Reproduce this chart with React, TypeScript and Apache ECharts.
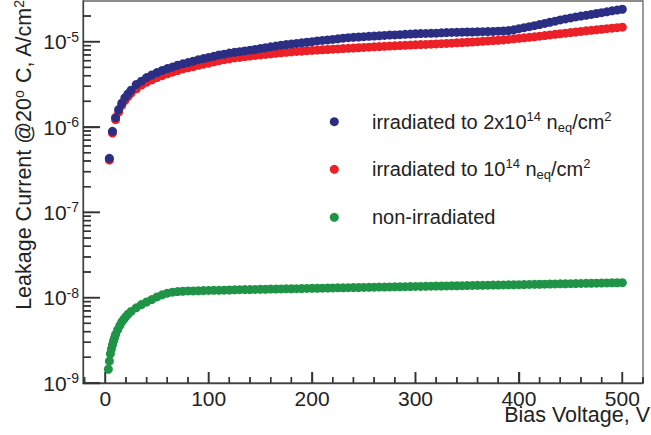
import React, { useEffect, useRef } from "react";
import * as echarts from "echarts";

// ---------- data ----------
const vIrr = [4, 7, 10, 13, 16, 19, 22, 25, 30, 35, 40, 45, 50, 55, 60, 65, 70, 75, 80, 85, 90, 95, 100,
  105, 110, 115, 120, 125, 130, 135, 140, 145, 150, 155, 160, 165, 170, 175, 180, 185, 190, 195, 200,
  205, 210, 215, 220, 225, 230, 235, 240, 245, 250, 255, 260, 265, 270, 275, 280, 285, 290, 295, 300,
  305, 310, 315, 320, 325, 330, 335, 340, 345, 350, 355, 360, 365, 370, 375, 380, 385, 390, 395, 400,
  405, 410, 415, 420, 425, 430, 435, 440, 445, 450, 455, 460, 465, 470, 475, 480, 485, 490, 495, 500];

const irr2e14 = [4.3e-7, 8.9e-7, 1.29e-6, 1.6e-6, 1.9e-6, 2.2e-6, 2.45e-6, 2.7e-6, 3.15e-6, 3.45e-6, 3.8e-6, 4.07e-6, 4.35e-6, 4.6e-6, 4.85e-6, 5.05e-6, 5.3e-6, 5.5e-6, 5.7e-6, 5.9e-6, 6.15e-6, 6.35e-6, 6.55e-6,
  6.75e-6, 7.0e-6, 7.15e-6, 7.35e-6, 7.5e-6, 7.65e-6, 7.8e-6, 7.95e-6, 8.1e-6, 8.3e-6, 8.5e-6, 8.7e-6, 8.9e-6, 9.1e-6, 9.25e-6, 9.4e-6, 9.55e-6, 9.7e-6, 9.85e-6, 1.0e-5,
  1.02e-5, 1.035e-5, 1.05e-5, 1.065e-5, 1.08e-5, 1.1e-5, 1.115e-5, 1.125e-5, 1.135e-5, 1.145e-5, 1.155e-5, 1.165e-5, 1.175e-5, 1.185e-5, 1.195e-5, 1.2e-5, 1.21e-5, 1.22e-5, 1.23e-5, 1.24e-5,
  1.245e-5, 1.25e-5, 1.255e-5, 1.26e-5, 1.27e-5, 1.28e-5, 1.285e-5, 1.29e-5, 1.295e-5, 1.3e-5, 1.3e-5, 1.305e-5, 1.31e-5, 1.315e-5, 1.32e-5, 1.33e-5, 1.335e-5, 1.35e-5, 1.38e-5, 1.42e-5,
  1.46e-5, 1.5e-5, 1.54e-5, 1.59e-5, 1.64e-5, 1.69e-5, 1.74e-5, 1.8e-5, 1.85e-5, 1.9e-5, 1.95e-5, 2.0e-5, 2.04e-5, 2.09e-5, 2.14e-5, 2.19e-5, 2.24e-5, 2.3e-5, 2.35e-5, 2.4e-5];

const irr1e14 = [4.1e-7, 8.5e-7, 1.22e-6, 1.5e-6, 1.8e-6, 2.05e-6, 2.28e-6, 2.5e-6, 2.8e-6, 3.1e-6, 3.35e-6, 3.57e-6, 3.8e-6, 4.0e-6, 4.2e-6, 4.4e-6, 4.6e-6, 4.8e-6, 4.95e-6, 5.1e-6, 5.3e-6, 5.45e-6, 5.6e-6,
  5.8e-6, 6.0e-6, 6.15e-6, 6.3e-6, 6.45e-6, 6.55e-6, 6.7e-6, 6.8e-6, 6.9e-6, 7.0e-6, 7.1e-6, 7.2e-6, 7.3e-6, 7.4e-6, 7.5e-6, 7.6e-6, 7.7e-6, 7.75e-6, 7.85e-6, 7.9e-6,
  7.98e-6, 8.05e-6, 8.1e-6, 8.17e-6, 8.23e-6, 8.3e-6, 8.37e-6, 8.43e-6, 8.5e-6, 8.57e-6, 8.63e-6, 8.7e-6, 8.77e-6, 8.83e-6, 8.9e-6, 8.95e-6, 9.02e-6, 9.08e-6, 9.14e-6, 9.2e-6,
  9.25e-6, 9.3e-6, 9.36e-6, 9.42e-6, 9.48e-6, 9.55e-6, 9.62e-6, 9.7e-6, 9.77e-6, 9.85e-6, 9.92e-6, 1.0e-5, 1.01e-5, 1.02e-5, 1.03e-5, 1.04e-5, 1.05e-5, 1.065e-5, 1.08e-5, 1.095e-5,
  1.11e-5, 1.125e-5, 1.14e-5, 1.16e-5, 1.18e-5, 1.2e-5, 1.22e-5, 1.24e-5, 1.26e-5, 1.28e-5, 1.3e-5, 1.32e-5, 1.34e-5, 1.36e-5, 1.38e-5, 1.4e-5, 1.42e-5, 1.44e-5, 1.46e-5, 1.48e-5];

const vNon = [3, 4, 5, 6, 7, 8, 9, 10, 12, 14, 16, 18, 20, 22, 25, 30, 35, 40, 45, 50, 55, 60, 65, 70, 75, 80, 85, 90, 95, 100,
  105, 110, 115, 120, 125, 130, 135, 140, 145, 150, 155, 160, 165, 170, 175, 180, 185, 190, 195, 200,
  205, 210, 215, 220, 225, 230, 235, 240, 245, 250, 255, 260, 265, 270, 275, 280, 285, 290, 295, 300,
  305, 310, 315, 320, 325, 330, 335, 340, 345, 350, 355, 360, 365, 370, 375, 380, 385, 390, 395, 400,
  405, 410, 415, 420, 425, 430, 435, 440, 445, 450, 455, 460, 465, 470, 475, 480, 485, 490, 495, 500];

const nonIrr = [1.45e-9, 1.8e-9, 2.2e-9, 2.5e-9, 2.8e-9, 3.1e-9, 3.4e-9, 3.7e-9, 4.2e-9, 4.7e-9, 5.2e-9, 5.6e-9, 6.0e-9, 6.4e-9, 6.9e-9, 7.6e-9, 8.3e-9, 8.9e-9, 9.5e-9, 1.02e-8, 1.08e-8, 1.13e-8, 1.16e-8, 1.18e-8, 1.19e-8, 1.2e-8, 1.2e-8, 1.205e-8, 1.21e-8, 1.215e-8,
  1.218e-8, 1.22e-8, 1.225e-8, 1.23e-8, 1.235e-8, 1.24e-8, 1.243e-8, 1.246e-8, 1.25e-8, 1.253e-8, 1.256e-8, 1.26e-8, 1.263e-8, 1.266e-8, 1.27e-8, 1.273e-8, 1.276e-8, 1.28e-8, 1.283e-8, 1.286e-8,
  1.29e-8, 1.293e-8, 1.296e-8, 1.3e-8, 1.303e-8, 1.306e-8, 1.31e-8, 1.313e-8, 1.316e-8, 1.32e-8, 1.323e-8, 1.326e-8, 1.33e-8, 1.333e-8, 1.336e-8, 1.34e-8, 1.343e-8, 1.346e-8, 1.35e-8, 1.353e-8,
  1.356e-8, 1.36e-8, 1.363e-8, 1.367e-8, 1.37e-8, 1.374e-8, 1.377e-8, 1.38e-8, 1.384e-8, 1.387e-8, 1.39e-8, 1.394e-8, 1.397e-8, 1.4e-8, 1.404e-8, 1.407e-8, 1.41e-8, 1.414e-8, 1.417e-8, 1.42e-8,
  1.424e-8, 1.428e-8, 1.432e-8, 1.436e-8, 1.44e-8, 1.444e-8, 1.448e-8, 1.452e-8, 1.456e-8, 1.46e-8, 1.464e-8, 1.468e-8, 1.472e-8, 1.476e-8, 1.48e-8, 1.484e-8, 1.488e-8, 1.492e-8, 1.496e-8, 1.5e-8];

const xMajorTicks = [0, 100, 200, 300, 400, 500];
const xMinorTicks = [-20, 20, 40, 60, 80, 120, 140, 160, 180, 220, 240, 260, 280, 320, 340, 360, 380, 420, 440, 460, 480, 520];
const yMajorTicks = [1e-9, 1e-8, 1e-7, 1e-6, 1e-5];
const yMinorTicks = [
  2e-9, 3e-9, 4e-9, 5e-9, 6e-9, 7e-9, 8e-9, 9e-9,
  2e-8, 3e-8, 4e-8, 5e-8, 6e-8, 7e-8, 8e-8, 9e-8,
  2e-7, 3e-7, 4e-7, 5e-7, 6e-7, 7e-7, 8e-7, 9e-7,
  2e-6, 3e-6, 4e-6, 5e-6, 6e-6, 7e-6, 8e-6, 9e-6,
  2e-5,
];

const seriesNames = [
  "irradiated to 2x10^14 neq/cm2",
  "irradiated to 10^14 neq/cm2",
  "non-irradiated",
];
const legendRich = [
  "irradiated to 2x10{sup|14} n{sub|eq}/cm{sup|2}",
  "irradiated to 10{sup|14} n{sub|eq}/cm{sup|2}",
  "non-irradiated",
];
const legendCenters = [121.7, 169.3, 217.3];
const colors = ["#2b2e83", "#ec2027", "#1f9346"];

const FONT = "'Liberation Sans', Arial, Helvetica, sans-serif";
const INK = "#222";
const TICK = "#333";

export default function App() {
  const ref = useRef<HTMLDivElement>(null);
  useEffect(() => {
    if (!ref.current) return;
    const chart = echarts.init(ref.current, null, { renderer: "svg" });
    const pair = (xs: number[], ys: number[]) => xs.map((x, i) => [x, ys[i]]);
    const xRange = { min: -21.5, max: 520 };
    const yRange = { min: 1e-9, max: 3e-5 };

    // legend drawn as graphic elements (marker + rich text)
    const legendEls: any[] = [];
    seriesNames.forEach((_n, i) => {
      legendEls.push({
        type: "circle", silent: true,
        shape: { cx: 334.3, cy: legendCenters[i], r: 4.5 },
        style: { fill: colors[i] },
      });
      legendEls.push({
        type: "text", silent: true, x: 372, y: legendCenters[i],
        style: {
          text: legendRich[i], fontFamily: FONT, fontSize: 20, fill: INK, lineHeight: 24,
          align: "left", verticalAlign: "middle",
          rich: {
            sup: { fontFamily: FONT, fontSize: 13, fill: INK, lineHeight: 13, verticalAlign: "top" },
            sub: { fontFamily: FONT, fontSize: 13, fill: INK, lineHeight: 13, verticalAlign: "bottom" },
          },
        },
      });
    });

    const texts: any[] = [
      {
        type: "text", x: 24, y: 0, rotation: Math.PI / 2,
        style: {
          text: "Leakage Current @20{s|o} C, A/cm{s|2}",
          fontFamily: FONT, fontSize: 21.5, fill: INK, align: "right", verticalAlign: "middle",
          rich: {
            s: { fontFamily: FONT, fontSize: 14, fill: INK, lineHeight: 14, verticalAlign: "top" },
          },
          lineHeight: 24,
        },
      },
      {
        type: "text", x: 650, y: 407,
        style: {
          text: "Bias Voltage, V", fontFamily: FONT, fontSize: 21.5, fill: INK, lineHeight: 16,
          align: "right", verticalAlign: "top",
        },
      },
      ...legendEls,
    ];

    // tick marks as a custom series, placed through the axes' scales (api.coord)
    const tickSeries = (data: number[][], dx: number, dy: number) => ({
      type: "custom",
      silent: true,
      clip: false,
      encode: { x: 0, y: 1 },
      data,
      renderItem: (_p: any, api: any) => {
        const pt = api.coord([api.value(0), api.value(1)]);
        return {
          type: "line",
          shape: { x1: pt[0], y1: pt[1], x2: pt[0] + dx, y2: pt[1] + dy },
          style: { stroke: TICK, lineWidth: 1.4 },
        };
      },
    });

    const option: any = {
      animation: false,
      grid: {
        left: 83, right: 8, top: 1, bottom: 52,
        show: true, borderColor: "#666", borderWidth: 1.3,
      },
      xAxis: {
        type: "value", ...xRange,
        axisLine: { show: true, onZero: false, lineStyle: { color: "#444", width: 1.3 } },
        axisTick: { show: true, inside: true, length: 11, customValues: xMajorTicks, lineStyle: { color: TICK, width: 1.4 } },
        axisLabel: { customValues: xMajorTicks, margin: 7, lineHeight: 16, fontFamily: FONT, fontSize: 21, color: INK },
        splitLine: { show: false },
      },
      yAxis: {
        type: "log", logBase: 10, ...yRange,
        axisLine: { show: true, onZero: false, lineStyle: { color: "#444", width: 1.3 } },
        axisTick: { show: true, inside: true, length: 17, customValues: yMajorTicks, lineStyle: { color: TICK, width: 1.4 } },
        axisLabel: {
          customValues: yMajorTicks, margin: 4, fontFamily: FONT, fontSize: 21, color: INK,
          formatter: (v: number) => `{b|10}{s|${Math.round(Math.log10(v))}}`,
          rich: {
            b: { fontFamily: FONT, fontSize: 21, color: INK, lineHeight: 24 },
            s: { fontFamily: FONT, fontSize: 14, color: INK, lineHeight: 14, verticalAlign: "top" },
          },
        },
        splitLine: { show: false },
      },
      series: [
        {
          name: seriesNames[2], type: "scatter",
          symbol: "circle", symbolSize: 9, itemStyle: { color: colors[2], opacity: 1 },
          data: pair(vNon, nonIrr),
        },
        {
          name: seriesNames[1], type: "scatter",
          symbol: "circle", symbolSize: 9, itemStyle: { color: colors[1], opacity: 1 },
          data: pair(vIrr, irr1e14),
        },
        {
          name: seriesNames[0], type: "scatter",
          symbol: "circle", symbolSize: 9, itemStyle: { color: colors[0], opacity: 1 },
          data: pair(vIrr, irr2e14),
        },
        tickSeries(xMajorTicks.map((v) => [v, yRange.min]), 0, -11),
        tickSeries(xMinorTicks.map((v) => [v, yRange.min]), 0, -6),
        tickSeries(yMajorTicks.map((v) => [xRange.min, v]), 17, 0),
        tickSeries(yMinorTicks.map((v) => [xRange.min, v]), 8, 0),
      ],
      graphic: texts,
    };
    chart.setOption(option);

    // same ticks again as graphic lines, placed through convertToPixel
    try {
      const toPx = (x: number, y: number) =>
        chart.convertToPixel({ gridIndex: 0 } as any, [x, y]) as number[];
      const tick = (p: number[], dx: number, dy: number) => ({
        type: "line",
        silent: true,
        z: 100,
        shape: { x1: p[0], y1: p[1], x2: p[0] + dx, y2: p[1] + dy },
        style: { stroke: TICK, lineWidth: 1.4 },
      });
      const ticks: any[] = [];
      xMajorTicks.forEach((v) => { const p = toPx(v, yRange.min); if (p && isFinite(p[0])) ticks.push(tick(p, 0, -11)); });
      xMinorTicks.forEach((v) => { const p = toPx(v, yRange.min); if (p && isFinite(p[0])) ticks.push(tick(p, 0, -6)); });
      yMajorTicks.forEach((v) => { const p = toPx(xRange.min, v); if (p && isFinite(p[1])) ticks.push(tick(p, 17, 0)); });
      yMinorTicks.forEach((v) => { const p = toPx(xRange.min, v); if (p && isFinite(p[1])) ticks.push(tick(p, 8, 0)); });
      if (ticks.length) chart.setOption({ graphic: [...texts, ...ticks] });
    } catch (e) {
      // keep the chart as it is
    }
    return () => chart.dispose();
  }, []);
  return (
    <div
      ref={ref}
      style={{ position: "fixed", left: 0, top: 0, width: 651, height: 435, background: "#fff" }}
    />
  );
}
